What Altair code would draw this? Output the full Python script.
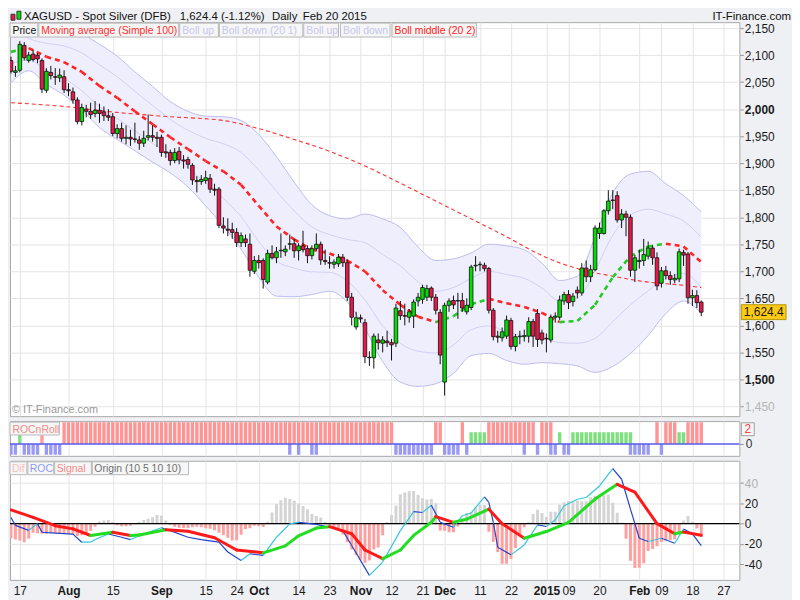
import altair as alt
import pandas as pd

FONT = "Liberation Sans"

# ---------------- candles: trading-day index (0 = 17 Jul 2014) ----------------
day_idx = list(range(-2, 155))
opens = [2090, 2068, 2072, 2118, 2090, 2102, 2100, 2090, 2035, 2068,
         2060, 2058, 2060, 2036, 2032, 2017, 1977, 2000, 1996, 1992,
         1998, 1995, 1988, 1986, 1955, 1964, 1946, 1948, 1945, 1943,
         1937, 1948, 1951, 1948, 1948, 1921, 1920, 1905, 1922, 1906,
         1907, 1896, 1868, 1866, 1868, 1872, 1852, 1852, 1784, 1778,
         1777, 1772, 1753, 1760, 1750, 1700, 1720, 1720, 1680, 1733,
         1725, 1738, 1736, 1750, 1751, 1738, 1747, 1742, 1729, 1742,
         1750, 1720, 1716, 1713, 1714, 1726, 1716, 1652, 1597, 1614,
         1605, 1541, 1540, 1573, 1567, 1571, 1568, 1567, 1627, 1618,
         1615, 1617, 1645, 1648, 1652, 1669, 1652, 1624, 1495, 1637,
         1646, 1646, 1646, 1625, 1633, 1710, 1712, 1711, 1705, 1628,
         1580, 1577, 1580, 1609, 1561, 1579, 1579, 1580, 1607, 1622,
         1586, 1576, 1573, 1615, 1615, 1645, 1657, 1644, 1665, 1660,
         1706, 1690, 1703, 1770, 1770, 1812, 1831, 1840, 1795, 1806,
         1800, 1702, 1718, 1720, 1728, 1743, 1725, 1678, 1701, 1692,
         1684, 1686, 1735, 1732, 1651, 1655, 1643]
highs = [2097, 2080, 2126, 2124, 2106, 2110, 2104, 2094, 2076, 2080,
         2076, 2075, 2072, 2048, 2040, 2022, 2010, 2008, 2012, 2015,
         2010, 2005, 2000, 1993, 1972, 1975, 1970, 1962, 1975, 1950,
         1960, 1990, 1970, 1958, 1953, 1935, 1925, 1928, 1930, 1915,
         1912, 1900, 1876, 1878, 1886, 1880, 1862, 1856, 1800, 1798,
         1790, 1780, 1772, 1768, 1770, 1728, 1730, 1724, 1740, 1748,
         1745, 1770, 1748, 1768, 1760, 1752, 1775, 1748, 1748, 1770,
         1755, 1740, 1728, 1722, 1732, 1732, 1722, 1660, 1625, 1620,
         1612, 1552, 1585, 1585, 1580, 1590, 1575, 1640, 1645, 1640,
         1630, 1648, 1660, 1675, 1675, 1672, 1658, 1630, 1642, 1650,
         1655, 1660, 1660, 1650, 1712, 1728, 1718, 1716, 1708, 1632,
         1590, 1596, 1618, 1614, 1584, 1590, 1592, 1615, 1612, 1630,
         1592, 1585, 1620, 1624, 1655, 1662, 1665, 1660, 1672, 1715,
         1720, 1712, 1785, 1790, 1815, 1850, 1850, 1848, 1815, 1812,
         1805, 1730, 1740, 1760, 1755, 1748, 1735, 1708, 1710, 1700,
         1695, 1742, 1740, 1736, 1666, 1665, 1646]
lows = [2066, 2060, 2068, 2090, 2086, 2088, 2085, 2030, 2030, 2055,
        2045, 2050, 2030, 2024, 2010, 1972, 1970, 1985, 1982, 1985,
        1975, 1978, 1978, 1950, 1946, 1940, 1935, 1932, 1938, 1925,
        1930, 1942, 1940, 1930, 1912, 1910, 1896, 1900, 1898, 1890,
        1890, 1860, 1846, 1860, 1862, 1845, 1840, 1780, 1770, 1765,
        1760, 1745, 1745, 1745, 1690, 1695, 1705, 1668, 1676, 1722,
        1715, 1725, 1728, 1740, 1725, 1720, 1735, 1715, 1722, 1738,
        1712, 1712, 1705, 1705, 1708, 1708, 1645, 1600, 1592, 1605,
        1530, 1525, 1520, 1555, 1550, 1560, 1535, 1560, 1610, 1600,
        1605, 1595, 1635, 1640, 1645, 1645, 1620, 1528, 1470, 1625,
        1630, 1612, 1625, 1620, 1628, 1700, 1700, 1700, 1622, 1572,
        1568, 1570, 1575, 1555, 1552, 1565, 1570, 1568, 1560, 1560,
        1565, 1550, 1568, 1605, 1610, 1638, 1630, 1635, 1650, 1655,
        1680, 1680, 1700, 1760, 1768, 1805, 1815, 1790, 1780, 1765,
        1690, 1680, 1705, 1710, 1722, 1712, 1665, 1670, 1685, 1675,
        1678, 1680, 1710, 1640, 1636, 1632, 1617]
closes = [2070, 2071, 2120, 2095, 2100, 2092, 2093, 2037, 2070, 2062,
          2059, 2063, 2036, 2034, 2017, 1977, 2003, 1996, 1990, 1998,
          1992, 1988, 1985, 1955, 1964, 1946, 1948, 1945, 1944, 1937,
          1946, 1951, 1948, 1946, 1920, 1919, 1905, 1920, 1906, 1904,
          1898, 1869, 1866, 1870, 1873, 1852, 1850, 1785, 1780, 1776,
          1772, 1753, 1766, 1753, 1702, 1720, 1716, 1685, 1733, 1725,
          1736, 1739, 1741, 1751, 1738, 1747, 1740, 1729, 1742, 1750,
          1721, 1718, 1715, 1717, 1726, 1716, 1652, 1615, 1614, 1612,
          1542, 1540, 1580, 1568, 1573, 1568, 1564, 1632, 1618, 1617,
          1625, 1643, 1652, 1670, 1668, 1652, 1628, 1545, 1637, 1645,
          1638, 1645, 1632, 1637, 1708, 1711, 1713, 1705, 1628, 1579,
          1578, 1588, 1610, 1561, 1579, 1580, 1581, 1607, 1580, 1574,
          1573, 1575, 1615, 1617, 1647, 1657, 1642, 1654, 1660, 1706,
          1690, 1703, 1780, 1780, 1812, 1830, 1832, 1795, 1806, 1800,
          1702, 1725, 1720, 1731, 1743, 1725, 1673, 1701, 1692, 1685,
          1687, 1736, 1730, 1651, 1655, 1642, 1624.4]

# ---------------- Bollinger bands (20,1)/(20,2), read every 4th day ----------------
band_idx = list(range(-2, 155, 4))
boll_mid = [2106, 2113, 2097, 2087, 2069, 2043, 2021, 1996, 1972, 1948,
            1926, 1904, 1885, 1860, 1821, 1783, 1759, 1740, 1733, 1720,
            1700, 1665, 1638, 1616, 1606, 1617, 1639, 1649, 1641, 1634,
            1623, 1606, 1608, 1638, 1689, 1728, 1746, 1751, 1746, 1717]
boll_up2 = [2189, 2151, 2148, 2148, 2139, 2120, 2098, 2069, 2042, 2014,
            1996, 1987, 1986, 1979, 1953, 1912, 1865, 1823, 1803, 1797,
            1806, 1797, 1781, 1745, 1720, 1723, 1734, 1750, 1747, 1740,
            1715, 1683, 1691, 1763, 1845, 1880, 1885, 1862, 1840, 1810]
boll_up1 = [2154, 2131, 2122, 2117, 2104, 2082, 2060, 2033, 2007, 1981,
            1961, 1946, 1936, 1920, 1887, 1848, 1812, 1782, 1768, 1759,
            1753, 1731, 1710, 1681, 1663, 1670, 1687, 1700, 1694, 1687,
            1669, 1645, 1650, 1701, 1767, 1804, 1815, 1806, 1793, 1763]
boll_lo1 = [2084, 2091, 2072, 2057, 2034, 2005, 1983, 1960, 1937, 1915,
            1891, 1863, 1835, 1801, 1755, 1719, 1706, 1699, 1698, 1682,
            1647, 1599, 1567, 1552, 1549, 1564, 1592, 1599, 1588, 1581,
            1577, 1568, 1567, 1576, 1607, 1638, 1664, 1687, 1696, 1670]
boll_lo2 = [2049, 2071, 2046, 2026, 1999, 1966, 1944, 1923, 1902, 1882,
            1856, 1821, 1784, 1741, 1689, 1654, 1653, 1657, 1663, 1643,
            1594, 1533, 1495, 1487, 1492, 1511, 1544, 1548, 1535, 1528,
            1531, 1529, 1525, 1513, 1524, 1548, 1581, 1622, 1645, 1622]

# ---------------- Simple moving average 100 ----------------
ma_idx = [-2, 10, 22, 34, 46, 54, 62, 70, 78, 86, 94, 102, 110, 118, 126, 134, 142, 150, 154]
ma_val = [2012, 2005, 1994, 1986, 1979, 1964, 1944, 1922, 1895, 1863, 1830, 1797, 1764,
          1729, 1705, 1691, 1680, 1674, 1670]

# ---------------- ROCnRoll panel ----------------
rr_red_days = list(range(10, 85)) + [94, 95, 100] + list(range(106, 117)) + \
    [118, 119, 120, 144, 146, 147, 148, 151, 152, 153, 154]
rr_red_short_days = [5]
rr_green_days = [0, 102, 103, 104, 105, 122] + list(range(125, 139)) + [149, 150]
rr_blue_days = [-2, -1, 1, 2, 3, 4, 6, 7, 8, 9, 61, 63, 66, 67] + list(range(85, 94)) + \
    [96, 97, 98, 99, 101, 114, 117, 120, 121, 123, 124, 138, 139, 140, 141, 142, 145]
rr_red_h, rr_red_short_h, rr_green_h, rr_blue_h = 2.95, 1.2, 1.6, -1.45

# ---------------- Origin (10 5 10 10) oscillator ----------------
dif_vals = [-14.4, -15.7, -16.6, -18.3, -15, -9, -9.5, -10.1, -10, -9.4, -10.1, -10.1,
            -10.1, -10.1, -11, -12.2, -11.5, -9.5, -7, -3, 2.2, 3.1,
            3.7, 1.9, -1.5, -2.5, -2.6, -2.2, -0.5, 1.5, 3.5, 4.8,
            6.4, 8.4, 7.9, 3, -1.2, -3, -4, -4.4, -4.3, -3.5,
            -3.1, -3.6, -4.5, -5.1, -6.5, -9, -11.5, -14, -16.6, -16.5,
            -11, -5.2, -4.6, -2.2, -2.5, -3.4, 2, 11, 19.3, 23,
            25.5, 24.2, 22.5, 19.8, 17.3, 14, 9.6, 7.6, 6, 1.9,
            -1.5, -3.3, -6, -10.8, -18.3, -25.4, -31, -35.5, -38.7, -36.3,
            -25.5, -23.5, -11.5, 1.5, 8.5, 18, 29, 30.6, 32, 32.3,
            28.5, 25, 23.8, 24.2, 20, -6.9, -7, -8.5, -8.5, -3,
            5.2, 10.5, 11.5, 16, 18.6, 18.5, -8, -18, -28, -39.6,
            -39.6, -35, -24, -10, -3.5, 1.5, 9.5, 13.7, 10.5, 6.5,
            11.7, 11.7, 19, 21.2, 22.3, 22, 22.6, 22, 22, 26,
            27.4, 27.4, 28, 28.8, 20.5, 10.7, 1, -15, -36.5, -43.8,
            -43.5, -39, -27, -25, -22.4, -18.2, -16.6, -16.2, -15.4, -9,
            3, 7.5, 1.9, -4.7, -13]
roc_idx = [-2, -1, 2, 4, 5, 8, 12, 14, 16, 17, 20, 23, 25, 28, 32, 34, 38, 41, 45, 47,
           50, 52, 55, 58, 61, 63, 67, 70, 73, 75, 79, 82, 86, 89, 91, 93, 95, 98, 100, 102,
           105, 106, 107, 108, 111, 114, 115, 117, 119, 121, 123, 126, 128, 131, 134, 136,
           138, 140, 142, 145, 148, 150, 152, 154]
roc_vals = [6, -1.7, -6.6, 0, -8.5, -9.4, -10.4, -18.3, -18.3, -15.7, -10.2, -13.4, -15.7,
            -10.2, -4, -6.9, -13.4, -15.7, -18.3, -28, -36.3, -29.7, -31.4, -13.4, -0.3, 1.3,
            -0.7, -3.6, -6.9, -21.6, -51, -37.9, -6.9, 11.8, 11, 18.2, 1.3, -3.6, 7.8, 10.5,
            26.5, 21, 1.3, -23.2, -30.8, -21, -14.4, -1.2, -2.8, 3.6, 17.6, 24.1, 25.8, 37.2,
            54.2, 43.8, 14.3, -14.4, -17.6, -14.4, -19.3, -5.2, -10.1, -21.6]
sig_idx = [-2, 3, 8, 12, 16, 21, 25, 27, 33, 38, 44, 49, 55, 60, 63, 67, 70, 75, 78, 82,
           86, 89, 93, 94, 98, 101, 106, 109, 114, 119, 124, 130, 135, 139, 144, 148, 150, 154]
sig_vals = [13.5, 6.2, -2, -5.2, -11.7, -8.5, -11.7, -11.2, -6, -7.5, -13.9, -26, -28.8,
            -21.9, -12, -4.4, -3, -10, -26, -34.6, -26, -11.6, 1.3, 6.9, 1.3, 4.5, 14.3, 0,
            -14.4, -7.8, 1.3, 24.2, 38.8, 31, 0, -10, -8.2, -11.5]

# ---------------- axis ticks ----------------
tick_idx = [0, 11, 21, 32, 42, 49, 54, 63, 70, 77, 84, 91, 96, 104, 111, 119, 124, 131, 140, 145, 152, 159]
tick_lab = ["17", "Aug", "15", "Sep", "15", "24", "Oct", "14", "23", "Nov", "12", "21", "Dec",
            "11", "22", "2015", "09", "20", "Feb", "09", "18", "27"]
bold_lab = ["Aug", "Sep", "Oct", "Nov", "Dec", "2015", "Feb"]
price_ticks = list(range(1450, 2151, 50))
osc_ticks = [-40, -20, 0, 20, 40]
last_price = 1624.4

# ====================================================================
W = 735
H_MAIN, H_RR, H_OSC = 397, 35, 120
GRID = "#e4e4e4"
UP, DOWN = "#00e000", "#e8174a"

xs = alt.Scale(domain=[-1.106, 161.5], nice=False, zero=False)
x_grid_axis = alt.Axis(values=tick_idx, labels=False, ticks=False, domain=False,
                       grid=True, gridColor=GRID, title=None)


def X(field="i"):
    return alt.X(f"{field}:Q", scale=xs, axis=x_grid_axis)


def rect_box(x1, x2, y1, y2, fill, stroke):
    return alt.Chart(pd.DataFrame({"a": [0]})).mark_rect(
        fill=fill, stroke=stroke, strokeWidth=1).encode(
        x=alt.value(x1), x2=alt.value(x2), y=alt.value(y1), y2=alt.value(y2))


def label(x, y, text, color, size=11, align="left", weight="normal"):
    return alt.Chart(pd.DataFrame({"t": [text]})).mark_text(
        align=align, baseline="alphabetic", fontSize=size, color=color,
        fontWeight=weight, font=FONT).encode(x=alt.value(x), y=alt.value(y), text="t:N")


def segments(idx, vals, up_c, down_c, prefix):
    rows = []
    for k in range(len(idx) - 1):
        c = up_c if vals[k + 1] >= vals[k] else down_c
        rows.append({"i": idx[k], "v": vals[k], "seg": f"{prefix}{k}", "clr": c})
        rows.append({"i": idx[k + 1], "v": vals[k + 1], "seg": f"{prefix}{k}", "clr": c})
    return pd.DataFrame(rows)


# ---------------- main price panel ----------------
ys_main = alt.Scale(domain=[1432, 2161], nice=False, zero=False)
y_main_axis = alt.Axis(
    orient="right", values=price_ticks, format=",.0f", title=None, tickSize=4,
    tickColor="#999999", labelPadding=1, labelFontSize=12,
    labelColor={"condition": {"test": "datum.value == 1450", "value": "#b5b5b5"}, "value": "#1a1a1a"},
    labelFontWeight={"condition": {"test": "datum.value == 1500 || datum.value == 2000",
                                   "value": "bold"}, "value": "normal"},
    grid=True, gridColor=GRID, domain=False)


def YM(field):
    return alt.Y(f"{field}:Q", scale=ys_main, axis=y_main_axis)


band_df = pd.DataFrame({"i": band_idx, "mid": boll_mid, "up2": boll_up2, "up1": boll_up1,
                        "lo1": boll_lo1, "lo2": boll_lo2})
band_fill = alt.Chart(band_df).mark_area(color="#eeeefc", interpolate="monotone", clip=True).encode(
    x=X(), y=YM("lo2"), y2="up2:Q")
band_long = band_df.melt(id_vars="i", value_vars=["up2", "up1", "lo1", "lo2"], var_name="s", value_name="v")
band_long["clr"] = band_long["s"].map({"up2": "#bcbcef", "lo2": "#bcbcef", "up1": "#d0d0f5", "lo1": "#d0d0f5"})
band_lines = alt.Chart(band_long).mark_line(interpolate="monotone", strokeWidth=1, clip=True).encode(
    x=X(), y=YM("v"), detail="s:N", color=alt.Color("clr:N", scale=None))

ma_df = pd.DataFrame({"i": ma_idx, "v": ma_val})
ma_line = alt.Chart(ma_df).mark_line(color="#ff3030", strokeWidth=1.1, strokeDash=[4, 3],
                                     interpolate="monotone", clip=True).encode(x=X(), y=YM("v"))

mid_df = segments(band_idx, boll_mid, "#22cc22", "#ff2424", "m")
mid_line = alt.Chart(mid_df).mark_line(strokeWidth=2.6, strokeDash=[5, 4], clip=True).encode(
    x=X(), y=YM("v"), detail="seg:N", color=alt.Color("clr:N", scale=None))

cdf = pd.DataFrame({"i": day_idx, "o": opens, "h": highs, "l": lows, "c": closes})
cdf["clr"] = [UP if c >= o else DOWN for o, c in zip(opens, closes)]
wicks = alt.Chart(cdf).mark_rule(color="#111111", strokeWidth=1, clip=True).encode(
    x=X(), y=YM("l"), y2="h:Q")
bodies = alt.Chart(cdf).mark_bar(width=3.6, stroke="#111111", strokeWidth=0.8, clip=True).encode(
    x=X(), y=YM("o"), y2="c:Q", color=alt.Color("clr:N", scale=None))

pm_df = pd.DataFrame({"p": [last_price], "t": [f"{last_price:,.1f}"]})
RECT_WIDE = "M-1,-0.333L1,-0.333L1,0.333L-1,0.333Z"
price_box = alt.Chart(pm_df).mark_point(shape=RECT_WIDE, size=2025, filled=True, opacity=1,
                                        fill="#fcc914", stroke="#b8960a", strokeWidth=1).encode(
    x=alt.value(W + 24.5), y=YM("p"))
price_txt = alt.Chart(pm_df).mark_text(fontSize=12, color="#1a1a1a", font=FONT).encode(
    x=alt.value(W + 24.5), y=YM("p"), text="t:N")

main_layers = [band_fill, band_lines, ma_line, mid_line, wicks, bodies, price_box, price_txt]

# header
main_layers += [
    rect_box(1, 5, -8, -2, DOWN, "#333333"),
    rect_box(7, 11, -11, -3, UP, "#333333"),
    label(14, -2.5, "XAGUSD - Spot Silver (DFB)", "#111111", 11.5),
    label(171, -2.5, "1,624.4 (-1.12%)", "#111111", 11.5),
    label(264, -2.5, "Daily", "#111111", 11.5),
    label(295, -2.5, "Feb 20 2015", "#111111", 11.5),
    label(787, -2.5, "IT-Finance.com", "#111111", 11.5, align="right"),
]
# legend boxes
legend_main = [("Price", 0, 28, "#111111"), ("Moving average (Simple 100)", 29, 170, "#ff2d2d"),
               ("Boll up", 171, 210, "#c6c6ef"), ("Boll down (20 1)", 211, 295, "#c6c6ef"),
               ("Boll up", 296, 331, "#c6c6ef"), ("Boll down", 333, 383, "#c6c6ef"),
               ("Boll middle (20 2)", 385, 470, "#ff2020")]
for t, x1, x2, col in legend_main:
    main_layers.append(rect_box(x1, x2, 1, 15, "#f6f6f6", "#b8b8b8"))
    main_layers.append(label(x1 + 2.5, 12, t, col, 10.5))
main_layers.append(label(2, 394, "\u00a9 IT-Finance.com", "#9a9a9a", 11))

main = alt.layer(*main_layers).properties(width=W, height=H_MAIN)

# ---------------- ROCnRoll panel ----------------
ys_rr = alt.Scale(domain=[-1.6, 3.1], nice=False, zero=False)
rr_axis = alt.Axis(orient="right", values=[0], title=None, tickSize=4, tickColor="#999999",
                   labelPadding=2, labelFontSize=12, labelColor="#333333", grid=False, domain=False)
rr_rows = ([{"i": d, "v": rr_red_h, "clr": "#ff9494"} for d in rr_red_days] +
           [{"i": d, "v": rr_red_short_h, "clr": "#ff9a9a"} for d in rr_red_short_days] +
           [{"i": d, "v": rr_green_h, "clr": "#7ddf7d"} for d in rr_green_days] +
           [{"i": d, "v": rr_blue_h, "clr": "#9a9af5"} for d in rr_blue_days])
rr_df = pd.DataFrame(rr_rows)
rr_df["z"] = 0
rr_bars = alt.Chart(rr_df).mark_bar(width=3.4, clip=True).encode(
    x=X(), y=alt.Y("v:Q", scale=ys_rr, axis=rr_axis), y2="z:Q", color=alt.Color("clr:N", scale=None))
rr_zero = alt.Chart(pd.DataFrame({"v": [0]})).mark_rule(color="#5a5aee", strokeWidth=1.5).encode(
    y=alt.Y("v:Q", scale=ys_rr, axis=rr_axis))
rr_mark_df = pd.DataFrame({"v": [2], "t": ["2"]})
rr_box = alt.Chart(rr_mark_df).mark_point(shape="M-1,-1L1,-1L1,1L-1,1Z", size=169, filled=True, opacity=1,
                                          fill="#f6f6f6", stroke="#a0a0a0", strokeWidth=1).encode(
    x=alt.value(W + 8.5), y=alt.Y("v:Q", scale=ys_rr, axis=rr_axis))
rr_txt = alt.Chart(rr_mark_df).mark_text(fontSize=12, color="#ff4040", font=FONT).encode(
    x=alt.value(W + 8.5), y=alt.Y("v:Q", scale=ys_rr, axis=rr_axis), text="t:N")
rr = alt.layer(rr_bars, rr_zero, rr_box, rr_txt,
               rect_box(0, 50, 1, 14, "#f6f6f6", "#b8b8b8"),
               label(2.5, 11.5, "ROCnRoll", "#f08a8a", 10.5)).properties(width=W, height=H_RR)

# ---------------- oscillator panel ----------------
ys_osc = alt.Scale(domain=[-55.5, 62], nice=False, zero=False)
osc_axis = alt.Axis(
    orient="right", values=osc_ticks, title=None, tickSize=4, tickColor="#999999",
    labelPadding=1, labelFontSize=12,
    labelColor={"condition": {"test": "datum.value == 40", "value": "#b0b0b0"}, "value": "#1a1a1a"},
    labelExpr="datum.value < 0 ? '-' + abs(datum.value) : '' + datum.value",
    grid=True, gridColor=GRID, domain=False)
labels_js = "[" + ",".join(f"'{t}'" for t in tick_lab) + "]"
values_js = "[" + ",".join(str(v) for v in tick_idx) + "]"
bold_vals = [v for v, t in zip(tick_idx, tick_lab) if t in bold_lab]
bold_js = "[" + ",".join(str(v) for v in bold_vals) + "]"
x_bottom_axis = alt.Axis(
    values=tick_idx, labelExpr=f"{labels_js}[indexof({values_js}, datum.value)]",
    labelFontWeight={"condition": {"test": f"indexof({bold_js}, datum.value) >= 0", "value": "bold"},
                     "value": "normal"},
    labelFontSize=12, labelColor="#1a1a1a", ticks=False, domain=False, grid=True, gridColor=GRID,
    labelPadding=6, title=None, labelOverlap=False, labelFlush=False)


def XO():
    return alt.X("i:Q", scale=xs, axis=x_bottom_axis)


def YO(field="v"):
    return alt.Y(f"{field}:Q", scale=ys_osc, axis=osc_axis)


dif_df = pd.DataFrame({"i": day_idx, "v": dif_vals})
dif_df["z"] = 0
dif_df["clr"] = ["#d4d4d4" if v >= 0 else "#ffa0a0" for v in dif_vals]
dif_bars = alt.Chart(dif_df).mark_bar(width=3.0, clip=True).encode(
    x=XO(), y=YO(), y2="z:Q", color=alt.Color("clr:N", scale=None))
osc_zero = alt.Chart(pd.DataFrame({"v": [0]})).mark_rule(color="#000000", strokeWidth=1.2).encode(y=YO())
roc_df = segments(roc_idx, roc_vals, "#33c6dc", "#2244cc", "r")
roc_line = alt.Chart(roc_df).mark_line(strokeWidth=1.2, clip=True).encode(
    x=XO(), y=YO(), detail="seg:N", color=alt.Color("clr:N", scale=None))
sig_df = segments(sig_idx, sig_vals, "#22dd22", "#ff1a1a", "s")
sig_line = alt.Chart(sig_df).mark_line(strokeWidth=3, strokeCap="round", clip=True).encode(
    x=XO(), y=YO(), detail="seg:N", color=alt.Color("clr:N", scale=None))

osc_layers = [dif_bars, osc_zero, roc_line, sig_line]
for t, x1, x2, col in [("Dif", 0, 17, "#f5c0c0"), ("ROC", 18, 44, "#8b9cf0"),
                       ("Signal", 45, 82, "#f28b8b"), ("Origin (10 5 10 10)", 83, 180, "#707070")]:
    osc_layers.append(rect_box(x1, x2, 1, 14, "#f6f6f6", "#b8b8b8"))
    osc_layers.append(label(x1 + 2, 11.5, t, col, 10.5))
osc = alt.layer(*osc_layers).properties(width=W, height=H_OSC)

chart = alt.vconcat(main, rr, osc, spacing=3).properties(background="#eef0f3", padding=0)
chart = chart.configure(font=FONT).configure_view(
    fill="white", stroke="#a8a8a8", strokeWidth=1).configure_axis(labelFont=FONT)

chart.save("out.html", embed_options={"renderer": "svg", "actions": False})
